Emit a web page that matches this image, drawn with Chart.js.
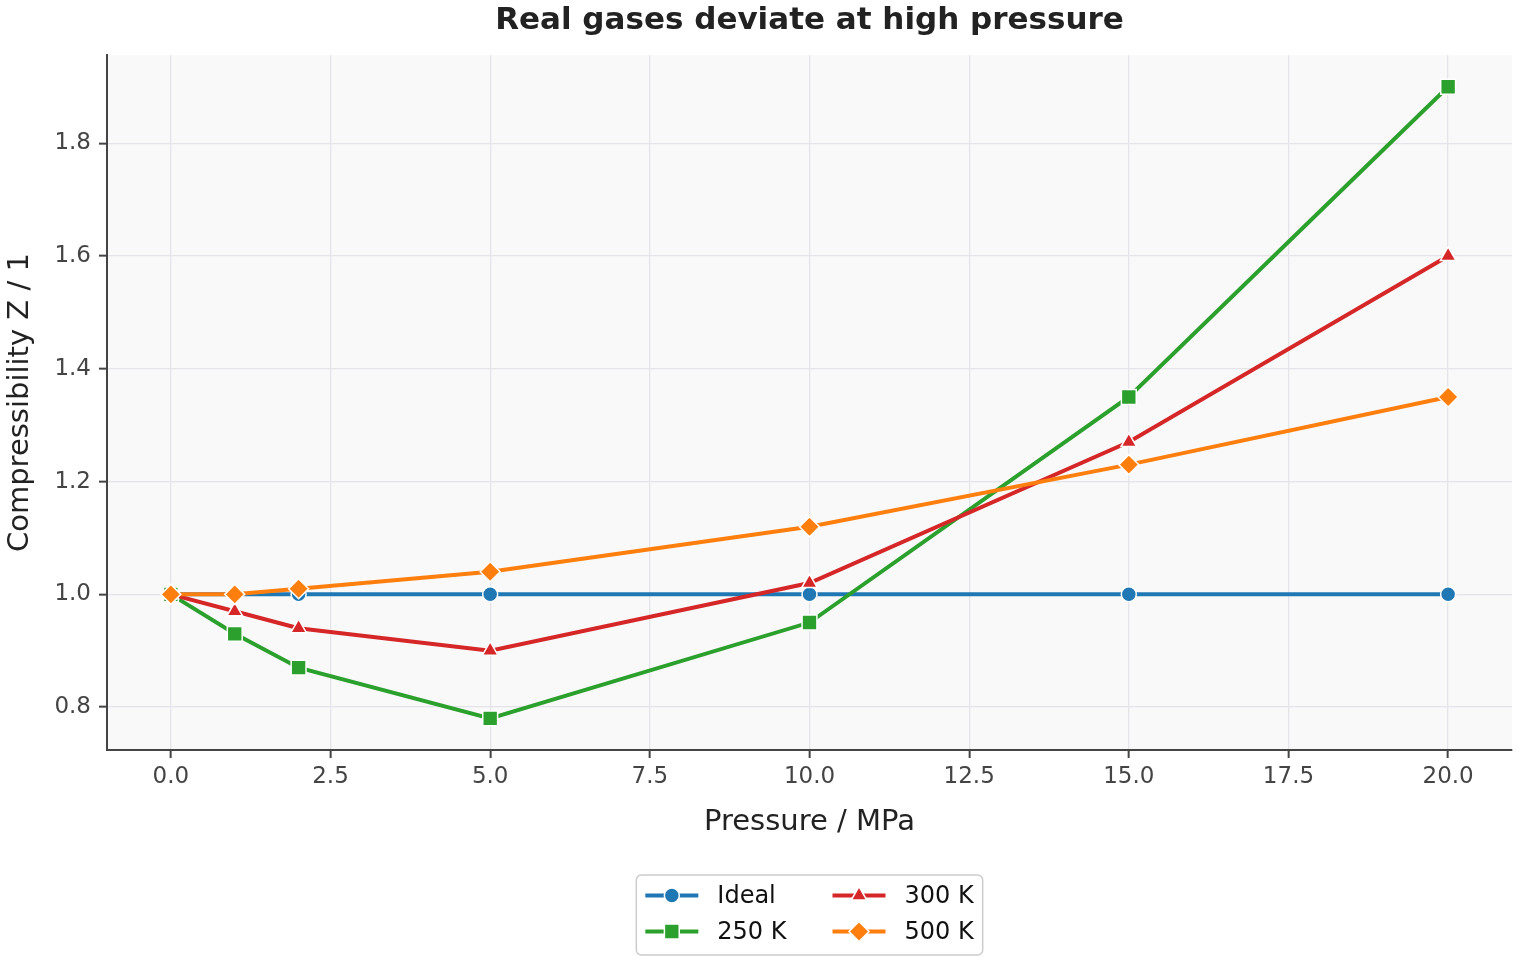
<!DOCTYPE html>
<html><head><meta charset="utf-8">
<script src="https://cdn.jsdelivr.net/npm/chart.js@4/dist/chart.umd.min.js"></script>
<style>html,body{margin:0;padding:0;background:#fff;overflow:hidden}#wrap{width:1520px;height:960px;position:relative}</style>
</head><body><div id="wrap"><canvas id="c" width="1520" height="960"></canvas></div>
<script>
// ---- data ----
const pressure = [0, 1, 2, 5, 10, 15, 20];
const zIdeal = [1.00, 1.00, 1.00, 1.00, 1.00, 1.00, 1.00];
const z250 = [1.00, 0.93, 0.87, 0.78, 0.95, 1.35, 1.90];
const z300 = [1.00, 0.97, 0.94, 0.90, 1.02, 1.27, 1.60];
const z500 = [1.00, 1.00, 1.01, 1.04, 1.12, 1.23, 1.35];
const seriesNames = ['Ideal', '250 K', '300 K', '500 K'];
const xTicks = [0, 2.5, 5, 7.5, 10, 12.5, 15, 17.5, 20];
const yTicks = [0.8, 1.0, 1.2, 1.4, 1.6, 1.8];
const titleText = 'Real gases deviate at high pressure';
const xTitle = 'Pressure / MPa';
const yTitle = 'Compressibility Z / 1';

// ---- styles ----
const FAM = '"DejaVu Sans", "Liberation Sans", sans-serif';
const colors = ['#1f77b4', '#2ca02c', '#d62728', '#ff7f0e'];
const shapes = ['circle', 'rect', 'triangle', 'rectRot'];
const radii = [7.5, 10.5, 9, 10];
const drawOrder = [3, 2, 1, 0];
const values = [zIdeal, z250, z300, z500];

const datasets = seriesNames.map((name, i) => ({
  label: name,
  data: pressure.map((p, j) => ({x: p, y: values[i][j]})),
  borderColor: colors[i],
  backgroundColor: colors[i],
  borderWidth: 4,
  tension: 0,
  pointStyle: shapes[i],
  pointRadius: radii[i],
  pointHoverRadius: radii[i],
  pointBackgroundColor: colors[i],
  pointBorderColor: '#ffffff',
  pointBorderWidth: 1.5,
  order: drawOrder[i]
}));

function drawMarker(ctx, style, r, x, y, fill) {
  ctx.save();
  ctx.fillStyle = fill; ctx.strokeStyle = '#ffffff'; ctx.lineWidth = 1.5;
  ctx.beginPath();
  if (style === 'circle') {
    ctx.arc(x, y, r, 0, Math.PI * 2);
  } else if (style === 'rect') {
    const s = r * Math.SQRT1_2;
    ctx.rect(x - s, y - s, 2 * s, 2 * s);
  } else if (style === 'rectRot') {
    ctx.moveTo(x, y - r); ctx.lineTo(x + r, y); ctx.lineTo(x, y + r); ctx.lineTo(x - r, y);
  } else if (style === 'triangle') {
    const a = Math.PI / 6;
    ctx.moveTo(x - Math.cos(a) * r, y + Math.sin(a) * r);
    ctx.lineTo(x, y - r);
    ctx.lineTo(x + Math.cos(a) * r, y + Math.sin(a) * r);
  }
  ctx.closePath(); ctx.fill(); ctx.stroke();
  ctx.restore();
}

const bgPlugin = {
  id: 'bg',
  beforeDraw(chart) {
    const {ctx, chartArea: a} = chart;
    ctx.save();
    ctx.fillStyle = '#ffffff'; ctx.fillRect(0, 0, chart.width, chart.height);
    ctx.fillStyle = '#f9f9f9'; ctx.fillRect(a.left, a.top, a.right - a.left, a.bottom - a.top);
    ctx.restore();
  }
};

const legendPlugin = {
  id: 'boxLegend',
  afterDraw(chart) {
    const ctx = chart.ctx, a = chart.chartArea;
    const ds = chart.data.datasets;
    const rows = 2, cols = Math.ceil(ds.length / rows);
    ctx.save();
    ctx.font = '24px ' + FAM;
    const colW = [];
    for (let c = 0; c < cols; c++) {
      let w = 0;
      for (let r = 0; r < rows; r++) { const d = ds[c * rows + r]; if (d) w = Math.max(w, ctx.measureText(d.label).width); }
      colW.push(w);
    }
    const pad = 9, hl = 53, htp = 19, cs = 46;
    let total = pad * 2 + cols * (hl + htp) + (cols - 1) * cs;
    colW.forEach(w => total += w);
    const x0 = (a.left + a.right) / 2 - total / 2;
    const top = 875, h = 80;
    const rowY = [top + 20.5, top + 56.5];
    ctx.beginPath();
    ctx.roundRect(x0, top, total, h, 5);
    ctx.fillStyle = 'rgba(255,255,255,0.85)'; ctx.fill();
    ctx.strokeStyle = '#cccccc'; ctx.lineWidth = 1.5; ctx.stroke();
    let cx = x0 + pad;
    for (let c = 0; c < cols; c++) {
      for (let r = 0; r < rows; r++) {
        const d = ds[c * rows + r]; if (!d) continue;
        const y = rowY[r];
        ctx.strokeStyle = d.borderColor; ctx.lineWidth = 4; ctx.lineCap = 'butt';
        ctx.beginPath(); ctx.moveTo(cx, y); ctx.lineTo(cx + hl, y); ctx.stroke();
        drawMarker(ctx, d.pointStyle, d.pointRadius, cx + hl / 2, y, d.pointBackgroundColor);
        ctx.fillStyle = '#111111'; ctx.textAlign = 'left'; ctx.textBaseline = 'middle';
        ctx.font = '24px ' + FAM;
        ctx.fillText(d.label, cx + hl + htp, y + 1);
      }
      cx += hl + htp + colW[c] + cs;
    }
    ctx.restore();
  }
};

new Chart(document.getElementById('c'), {
  type: 'line',
  data: {datasets},
  plugins: [bgPlugin, legendPlugin],
  options: {
    responsive: false,
    animation: false,
    events: [],
    layout: {autoPadding: false, padding: {left: 0, right: 8, top: 0, bottom: 120}},
    plugins: {
      legend: {display: false},
      tooltip: {enabled: false},
      title: {display: true, text: titleText, color: '#222222', fullSize: false,
        font: {family: FAM, size: 31, weight: 'bold', lineHeight: 1.2},
        padding: {top: 2, bottom: 16}}
    },
    scales: {
      x: {
        type: 'linear', min: -1, max: 21,
        afterBuildTicks: s => { s.ticks = xTicks.map(v => ({value: v})); },
        afterFit: s => { s.height = 90; s.paddingRight = 0; s.paddingLeft = 0; },
        ticks: {callback: v => Number(v).toFixed(1), color: '#444444', padding: 5, maxRotation: 0, autoSkip: false,
          font: {family: FAM, size: 23}},
        grid: {color: '#e4e4ea', lineWidth: 1.3, tickLength: 8, tickColor: '#444444', tickWidth: 2},
        border: {color: '#444444', width: 2},
        title: {display: true, text: xTitle, color: '#222222', font: {family: FAM, size: 29}, padding: {top: 0, bottom: 0}}
      },
      y: {
        type: 'linear', min: 0.724, max: 1.956,
        afterBuildTicks: s => { s.ticks = yTicks.map(v => ({value: v})); },
        afterFit: s => { s.width = 107; s.paddingTop = 0; s.paddingBottom = 0; },
        ticks: {callback: v => Number(v).toFixed(1), color: '#444444', padding: 8, autoSkip: false,
          font: {family: FAM, size: 23}},
        grid: {color: '#e4e4ea', lineWidth: 1.3, tickLength: 8, tickColor: '#444444', tickWidth: 2},
        border: {color: '#444444', width: 2},
        title: {display: true, text: yTitle, color: '#222222', font: {family: FAM, size: 29}, padding: {top: 3, bottom: 0}}
      }
    }
  }
});
</script></body></html>
